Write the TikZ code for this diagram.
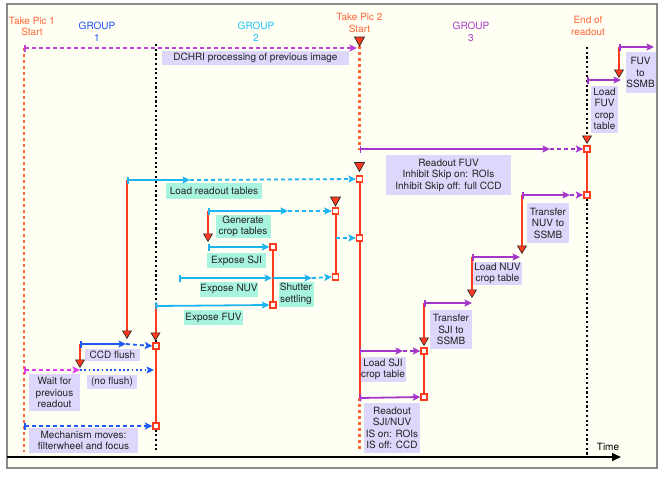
\documentclass[tikz,border=0pt]{standalone}
\usepackage{fontspec}
\setmainfont{TeX Gyre Heros}
\usetikzlibrary{arrows.meta}
\definecolor{bg}{HTML}{FFFFF3}
\definecolor{frame}{HTML}{8A8A8A}
\definecolor{tred}{HTML}{FF3B1E}
\definecolor{torange}{HTML}{FF6638}
\definecolor{gcyan}{HTML}{22C4FF}
\definecolor{acyan}{HTML}{1EB4F2}
\definecolor{gblue}{HTML}{1E50FF}
\definecolor{ablue}{HTML}{1F5CF5}
\definecolor{gpurp}{HTML}{A83CCB}
\definecolor{apurp}{HTML}{A437C9}
\definecolor{amag}{HTML}{E23CF0}
\definecolor{adch}{HTML}{C044D8}
\definecolor{lav}{HTML}{DCD7FB}
\definecolor{mint}{HTML}{A8F4DF}
\definecolor{txt}{HTML}{222222}
\tikzset{
  lbl/.style={inner sep=0pt, align=center},
  lavbox/.style={fill=lav, inner sep=0pt, align=center, text=txt},
  mintbox/.style={fill=mint, inner sep=0pt, align=center, text=txt},
  sq/.style={shape=rectangle, draw=tred, fill=white, line width=1.3pt, minimum size=6pt, inner sep=0pt},
  arr/.style={line width=1.8pt, -{Stealth[length=7.5pt,width=7pt,inset=1.5pt]}},
  tarr/.style={line width=1.8pt, {Bar[width=7pt]}-{Stealth[length=7.5pt,width=7pt,inset=1.5pt]}},
  dsh/.style={dash pattern=on 4pt off 3pt},
  dts/.style={dash pattern=on 1.8pt off 2.5pt},
  rline/.style={draw=tred, line width=2pt},
  rarr/.style={draw=tred, line width=2pt, -{Triangle[length=8.5pt,width=10pt,fill=tred,color=black!85,line width=0.7pt]}},
  odot/.style={draw=torange, line width=2.2pt, dash pattern=on 3pt off 3pt},
  kdot/.style={draw=black, line width=2pt, dash pattern=on 2.2pt off 2.5pt},
  rtri/.pic={\filldraw[fill=tred,draw=black!85,line width=0.7pt] (-5,-9) -- (5,-9) -- (0,0) -- cycle;}
}
\begin{document}
\begin{tikzpicture}[x=1pt,y=-1pt,font=\fontsize{10}{11.5}\selectfont]
\useasboundingbox (0,0) rectangle (665,477);
\filldraw[fill=bg,draw=frame,line width=1.5pt] (7,4) rectangle (657,468);

% ---------- top labels
\node[lbl,text=torange] (tp1) at (32,26.5) {Take Pic 1\\Start};
\node[lbl,text=gblue] (g1) at (97,32) {GROUP\\1};
\node[lbl,text=gcyan] (g2) at (256,32) {GROUP\\2};
\node[lbl,text=torange] (tp2) at (359.5,23) {Take Pic 2\\Start};
\node[lbl,text=gpurp] (g3) at (471,32) {GROUP\\3};
\node[lbl,text=torange] (eor) at (588,26) {End of\\readout};

% ---------- boxes
\node[lavbox,minimum width=187pt,minimum height=14pt] (bdch) at (255.5,58) {DCHRI processing of previous image};
\node[mintbox,minimum width=96pt,minimum height=16pt] (blrt) at (214,191) {Load readout tables};
\node[mintbox,minimum width=55pt,minimum height=23pt] (bgct) at (243,226.5) {Generate\\crop tables};
\node[mintbox,minimum width=59pt,minimum height=15pt] (bsji) at (236.5,260.5) {Expose SJI};
\node[mintbox,minimum width=58pt,minimum height=15pt] (bnuv) at (229,289) {Expose NUV};
\node[mintbox,minimum width=35pt,minimum height=25pt] (bsht) at (296,294) {Shutter\\settling};
\node[mintbox,minimum width=59pt,minimum height=15pt] (bfuv) at (213.5,317.5) {Expose FUV};
\node[lavbox,minimum width=55pt,minimum height=12pt] (bccd) at (112.5,355) {CCD flush};
\node[lavbox,minimum width=51pt,minimum height=37pt] (bwait) at (54.5,392.5) {Wait for\\previous\\readout};
\node[lavbox,minimum width=50pt,minimum height=14pt] (bnof) at (112,382) {(no flush)};
\node[lavbox,minimum width=109pt,minimum height=25pt] (bmech) at (83.5,440.5) {Mechanism moves:\\filterwheel and focus};
\node[lavbox,minimum width=125pt,minimum height=40pt] (brfuv) at (448.5,175) {Readout FUV\\Inhibit Skip on: ROIs\\Inhibit Skip off: full CCD};
\node[lavbox,minimum width=42pt,minimum height=40pt] (btnuv) at (548,223) {Transfer\\NUV to\\SSMB};
\node[lavbox,minimum width=49pt,minimum height=23pt] (blnuv) at (497.5,273.5) {Load NUV\\crop table};
\node[lavbox,minimum width=42pt,minimum height=39pt] (btsji) at (451,329.5) {Transfer\\SJI to\\SSMB};
\node[lavbox,minimum width=46pt,minimum height=25pt] (blsji) at (383,369.5) {Load SJI\\crop table};
\node[lavbox,minimum width=56pt,minimum height=50pt] (brsji) at (392,428) {Readout\\SJI/NUV\\IS on: ROIs\\IS off: CCD};
\node[lavbox,minimum width=27pt,minimum height=47pt] (blfuv) at (604.5,109) {Load\\FUV\\crop\\table};
\node[lavbox,minimum width=30pt,minimum height=41pt] (bfss) at (640.5,72.5) {FUV\\to\\SSMB};

% ---------- coordinates
\coordinate (p1top) at (24,48);
\coordinate (p1bot) at (24,452);
\coordinate (dch1) at (357,48);
\coordinate (p2top) at (359.5,46);
\coordinate (p2mid) at (359.5,150);
\coordinate (p2a) at (359.5,398);
\coordinate (p2b) at (359.5,450);
\coordinate (k1a) at (155.5,44);
\coordinate (k1b) at (155.5,452);
\coordinate (k2a) at (587,47);
\coordinate (k2tip) at (587,144);
\coordinate (k2b) at (587,455);
\coordinate (t0) at (7,457);
\coordinate (t1) at (621,457);

% squares
\node[sq] (s1) at (359.5,179) {};
\node[sq] (s2) at (359.5,238) {};
\node[sq] (s3) at (335.5,211) {};
\node[sq] (s4) at (335.5,277) {};
\node[sq] (s5) at (273,247) {};
\node[sq] (s6) at (273,305) {};
\node[sq] (s7) at (156,346) {};
\node[sq] (s8) at (156,426) {};
\node[sq] (s9) at (587,149) {};
\node[sq] (s10) at (587,195) {};
\node[sq] (s11) at (424,351) {};
\node[sq] (s12) at (424,397) {};

% ---------- vertical guide lines
\draw[kdot] (k1a) -- (k1b);
\draw[kdot] (s10) -- (k2b);
\draw[kdot, -{Triangle[length=8.5pt,width=10pt,fill=tred,color=black!85,line width=0.7pt]}] (k2a) -- (k2tip);
\draw[odot] (p1top) -- (p1bot);
\draw[odot] (p2top) -- (p2mid);
\draw[odot] (p2a) -- (p2b);

% time axis
\draw[line width=1.8pt,-{Triangle[length=9pt,width=8pt]}] (t0) -- (t1);
\node[lbl,text=black] (tlbl) at (608,447) {Time};

% ---------- red solid lines
\draw[rline] (s1) -- (p2a);
\draw[rline] (s3) -- (s4);
\draw[rline] (s5) -- (s6);
\draw[rline] (s7) -- (s8);
\draw[rline] (s9) -- (s10);
\draw[rline] (s11) -- (s12);

% standalone triangles
\pic at (p2top) {rtri};
\coordinate (tri2) at (359.5,171.5);
\pic at (tri2) {rtri};
\coordinate (tri3) at (335.5,206);
\pic at (tri3) {rtri};

% ---------- DCHRI
\draw[tarr,adch,dsh] (p1top) -- (dch1);

% ---------- group 2 (cyan)
\coordinate (lr0) at (127,180);
\coordinate (lr1) at (190,180);
\coordinate (lrt) at (127,339);
\draw[rarr] (lr0) -- (lrt);
\draw[tarr,acyan] (lr0) -- (lr1);
\draw[arr,acyan,dsh] (lr1) -- (s1.west);

\coordinate (gc0) at (208,211);
\coordinate (gc1) at (288,211);
\coordinate (gct) at (208,242);
\draw[rarr] (gc0) -- (gct);
\draw[tarr,acyan] (gc0) -- (gc1);
\draw[arr,acyan,dsh] (gc1) -- (s3.west);

\coordinate (cd0) at (335.5,238);
\draw[arr,acyan,dsh] (cd0) -- (s2.west);

\coordinate (sj0) at (208,247);
\draw[tarr,acyan] (sj0) -- (s5.west);

\coordinate (nv0) at (179,278);
\coordinate (nv1) at (272,278);
\coordinate (nv2) at (273,278);
\coordinate (nv3) at (312,278);
\draw[tarr,acyan] (nv0) -- (nv1);
\draw[arr,acyan] (nv2) -- (nv3);
\draw[arr,acyan,dsh] (nv3) -- (s4.west);

\coordinate (fv0) at (155.5,306);
\coordinate (fvt) at (155.5,341);
\draw[rarr] (fv0) -- (fvt);
\draw[tarr,acyan] (fv0) -- (s6.west);

% ---------- group 1 (blue)
\coordinate (cf0) at (80,344);
\coordinate (cf1) at (126,344);
\coordinate (cft) at (80,368);
\draw[rarr] (cf0) -- (cft);
\draw[tarr,ablue] (cf0) -- (cf1);
\draw[arr,ablue,dsh] (cf1) -- (s7.west);

\coordinate (w0) at (24,370);
\coordinate (w1) at (80,370);
\coordinate (w2) at (154,370);
\draw[tarr,amag,dsh] (w0) -- (w1);
\draw[arr,ablue,dts] (w1) -- (w2);

\coordinate (m0) at (24,426);
\draw[tarr,ablue,dsh] (m0) -- (s8.west);

% ---------- group 3 (purple)
\coordinate (rf0) at (359.5,149);
\coordinate (rf1) at (550,149);
\draw[tarr,apurp] (rf0) -- (rf1);
\draw[arr,apurp,dsh] (rf1) -- (s9.west);

\coordinate (tn0) at (522,195);
\coordinate (tn1) at (570,195);
\coordinate (tnt) at (522,254);
\draw[rarr] (tn0) -- (tnt);
\draw[tarr,apurp] (tn0) -- (tn1);
\draw[arr,apurp,dsh] (tn1) -- (s10.west);

\coordinate (ln0) at (472,257);
\coordinate (ln1) at (520,257);
\coordinate (lnt) at (472,298);
\draw[rarr] (ln0) -- (lnt);
\draw[tarr,apurp] (ln0) -- (ln1);

\coordinate (ts0) at (424,303);
\coordinate (ts1) at (472,303);
\coordinate (tst) at (424,346);
\draw[rarr] (ts0) -- (tst);
\draw[tarr,apurp] (ts0) -- (ts1);

\coordinate (ls0) at (359.5,351);
\coordinate (ls1) at (403,351);
\draw[tarr,apurp] (ls0) -- (ls1);
\draw[arr,apurp,dsh] (ls1) -- (s11.west);

\coordinate (rs0) at (359.5,398);
\draw[tarr,apurp] (rs0) -- (s12.west);

\coordinate (lf0) at (587,80);
\coordinate (lf1) at (621,80);
\draw[tarr,apurp] (lf0) -- (lf1);

\coordinate (fs0) at (619,47);
\coordinate (fs1) at (654,47);
\coordinate (fst) at (619,78);
\draw[rarr] (fs0) -- (fst);
\draw[tarr,apurp] (fs0) -- (fs1);

% redraw squares on top
\foreach \s in {s1,s2,s3,s4,s5,s6,s7,s8,s9,s10,s11,s12}
  \node[sq] at (\s) {};
\end{tikzpicture}
\end{document}
